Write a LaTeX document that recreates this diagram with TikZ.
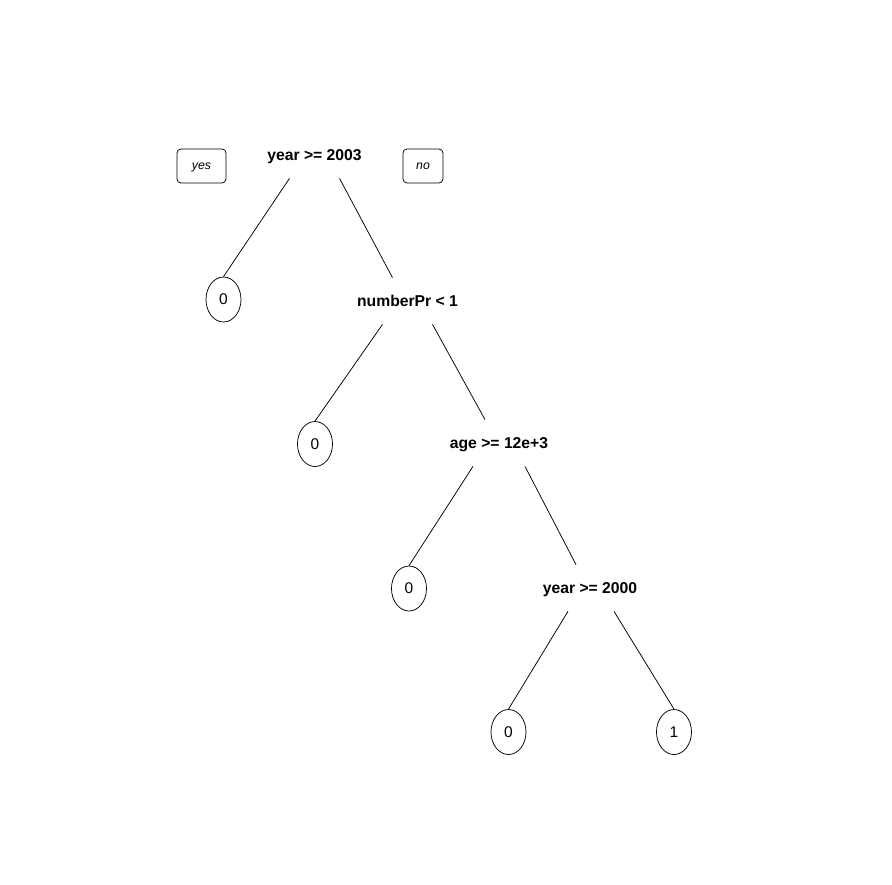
\documentclass[tikz,border=0pt]{standalone}
\usepackage{fontspec}
\setmainfont{Liberation Sans}
\usetikzlibrary{shapes.geometric}
\tikzset{
  every picture/.style={line width=0.75pt},
  split/.style={font=\bfseries\fontsize{15.7}{18}\selectfont, minimum height=46pt, inner sep=0pt, text depth=0pt},
  leaf/.style={ellipse, draw, minimum width=35pt, minimum height=45pt, inner sep=0pt, font=\fontsize{15.5}{18}\selectfont},
  tag/.style={draw, rounded corners=4pt, minimum height=34pt, inner sep=0pt, text depth=0pt, font=\itshape\fontsize{12.3}{14}\selectfont},
  branch/.style={draw=black, line width=0.75pt},
}

\begin{document}
\begin{tikzpicture}[x=1pt, y=-1pt]
  \useasboundingbox (0,0) rectangle (892,884);
  % splits
  \node[split] (root) at (314.5,155) {year >= 2003};
  \node[split] (numpr) at (407.5,301) {numberPr < 1};
  \node[split] (age) at (499,443) {age >= 12e+3};
  \node[split] (year) at (590,588) {year >= 2000};
  % yes / no
  \node[tag, minimum width=49pt] (yes) at (201.5,166) {yes};
  \node[tag, minimum width=40pt] (no) at (423,166) {no};
  % leaves
  \node[leaf] (l1) at (223.5,299.5) {0};
  \node[leaf] (l2) at (315,444) {0};
  \node[leaf] (l3) at (409,588.5) {0};
  \node[leaf] (l4) at (508.5,732) {0};
  \node[leaf] (l5) at (674,732) {1};
  % branches
  \draw[branch] ([xshift=-25pt]root.south) -- (l1.north);
  \draw[branch] ([xshift=25pt]root.south) -- ([xshift=-15pt]numpr.north);
  \draw[branch] ([xshift=-25pt]numpr.south) -- (l2.north);
  \draw[branch] ([xshift=25pt]numpr.south) -- ([xshift=-14pt]age.north);
  \draw[branch] ([xshift=-26pt]age.south) -- (l3.north);
  \draw[branch] ([xshift=26pt]age.south) -- ([xshift=-14pt]year.north);
  \draw[branch] ([xshift=-22pt]year.south) -- (l4.north);
  \draw[branch] ([xshift=24pt]year.south) -- (l5.north);
\end{tikzpicture}
\end{document}
